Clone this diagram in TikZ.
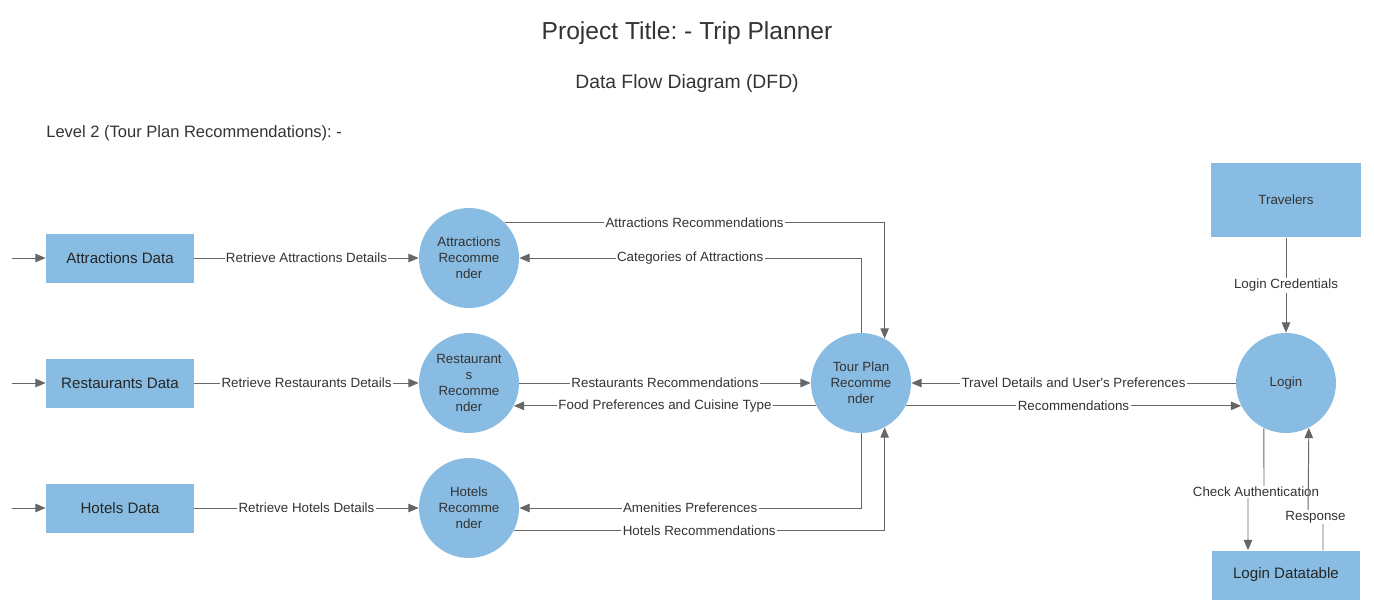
\documentclass[tikz,border=0pt]{standalone}
\usepackage{fontspec}
\setmainfont{Liberation Sans}
\usetikzlibrary{positioning,arrows.meta,calc}
\definecolor{boxblue}{RGB}{136,188,226}
\definecolor{txtgray}{RGB}{51,51,51}
\definecolor{linegray}{RGB}{102,102,102}
\frenchspacing

\begin{document}
\begin{tikzpicture}[x = 0.02cm, y = -0.02cm,
  store/.style = {fill = boxblue, minimum width = 2.96cm, minimum height = 0.98cm, font = \fontsize{8.6}{10}\selectfont, text = black!85},
  proc/.style = {circle, fill = boxblue, minimum size = 2cm, inner sep = 0pt, align = center, font = \fontsize{7.6}{9.1}\selectfont, text = txtgray},
  flow/.style = {draw = linegray, line width = 0.55pt, -{Triangle[length = 5.8pt, width = 4.8pt]}},
  lbl/.style = {fill = white, inner sep = 0.8pt, font = \fontsize{7.6}{9}\selectfont, text = txtgray}]
\useasboundingbox (0,0) rectangle (1374,613);
% headings
\node[font = \fontsize{14}{16}\selectfont, text = txtgray] (title) at (687,33) {Project Title: - Trip Planner};
\node[font = \fontsize{11}{13}\selectfont, text = txtgray] (subtitle) at (687,83) {Data Flow Diagram (DFD)};
\node[anchor = west, inner sep = 0pt, font = \fontsize{9.4}{11}\selectfont, text = txtgray] (level) at (46,133) {Level 2 (Tour Plan Recommendations): -};
% data stores
\node[store] (attrdata) at (120,258) {Attractions Data};
\node[store] (restdata) at (120,383) {Restaurants Data};
\node[store] (hoteldata) at (120,508) {Hotels Data};
\node[store, minimum width = 3cm, minimum height = 1.5cm, font = \fontsize{7.6}{9}\selectfont, text = txtgray] (travelers) at (1286,200) {Travelers};
\node[store] (logindb) at (1286,575) {Login Datatable};
% processes
\node[proc] (attrrec) at (469,258) {Attractions\\Recomme\\nder};
\node[proc] (restrec) at (469,383) {Restaurant\\s\\Recomme\\nder};
\node[proc] (hotelrec) at (469,508) {Hotels\\Recomme\\nder};
\node[proc] (tourrec) at (861,383) {Tour Plan\\Recomme\\nder};
\node[proc] (login) at (1286,383) {Login};
% free ends and bends
\coordinate (inA) at (12,258);
\coordinate (inR) at (12,383);
\coordinate (inH) at (12,508);
\coordinate (chkA) at (1264,492);
\coordinate (chkB) at (1248,492);
\coordinate (rspA) at (1323,517);
\coordinate (rspB) at (1308,517);
% inputs
\draw[flow] (inA) -- (attrdata);
\draw[flow] (inR) -- (restdata);
\draw[flow] (inH) -- (hoteldata);
% retrieve details
\draw[flow] (attrdata) -- node[lbl] {Retrieve Attractions Details} (attrrec);
\draw[flow] (restdata) -- node[lbl] {Retrieve Restaurants Details} (restrec);
\draw[flow] (hoteldata) -- node[lbl] {Retrieve Hotels Details} (hotelrec);
% attractions
\draw[flow] (attrrec.45) -| node[lbl, pos = 0.25] {Attractions Recommendations} (tourrec.62.6);
\draw[flow] (tourrec.north) |- node[lbl, pos = 0.75] {Categories of Attractions} (attrrec.east);
% restaurants
\draw[flow] (restrec) -- node[lbl] {Restaurants Recommendations} (tourrec);
\draw[flow] (tourrec.207.4) -- node[lbl] {Food Preferences and Cuisine Type} (restrec.-27.4);
% hotels
\draw[flow] (tourrec.south) |- node[lbl, pos = 0.75] {Amenities Preferences} (hotelrec.east);
\draw[flow] (hotelrec.-27.4) -| node[lbl, pos = 0.25] {Hotels Recommendations} (tourrec.-62.6);
% login side
\draw[flow] (login) -- node[lbl] {Travel Details and User\textquotesingle s Preferences} (tourrec);
\draw[flow] (tourrec.-27.4) -- node[lbl] {Recommendations} (login.207.4);
\draw[flow] (travelers) -- node[lbl] {Login Credentials} (login);
\draw[flow] (login.-116.1) -- (chkA) -- node[lbl] {Check Authentication} (chkB) -- (chkB |- logindb.north);
\draw[flow] (rspA |- logindb.north) -- (rspA) -- node[lbl] {Response} (rspB) -- (login.-63.9);
\end{tikzpicture}
\end{document}
